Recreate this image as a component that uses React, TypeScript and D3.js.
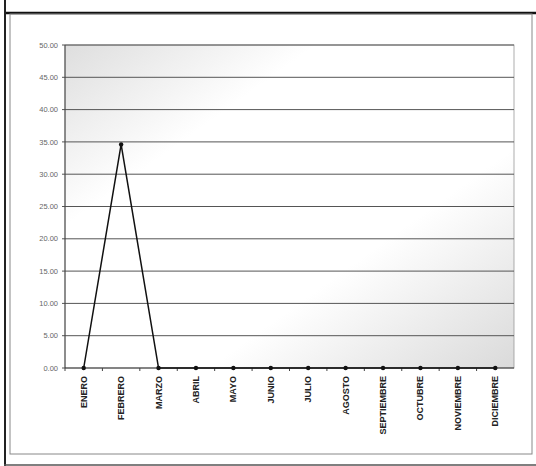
import React from 'react'
import * as d3 from 'd3'

const months: string[] = ['ENERO', 'FEBRERO', 'MARZO', 'ABRIL', 'MAYO', 'JUNIO', 'JULIO', 'AGOSTO', 'SEPTIEMBRE', 'OCTUBRE', 'NOVIEMBRE', 'DICIEMBRE']
const values: number[] = [0, 34.6, 0, 0, 0, 0, 0, 0, 0, 0, 0, 0]
const yTicks: number[] = [0, 5, 10, 15, 20, 25, 30, 35, 40, 45, 50]

const W = 536
const H = 466
const plot = { left: 65, right: 514, top: 45, bottom: 368 }

const App = () => {
  const x = d3.scaleBand<string>().domain(months).range([plot.left, plot.right])
  const y = d3.scaleLinear().domain([0, 50]).range([plot.bottom, plot.top])
  const cx = (m: string) => (x(m) as number) + x.bandwidth() / 2

  const line = d3.line<number>()
    .x((_, i) => cx(months[i]))
    .y(d => y(d))

  return (
    <svg width={W} height={H} style={{ position: 'absolute', left: 0, top: 0 }}
      fontFamily="'Liberation Sans', Arial, sans-serif">
      <defs>
        <linearGradient id="bg" x1="0" y1="0" x2="1" y2="1">
          <stop offset="0" stopColor="#dedede" />
          <stop offset="0.28" stopColor="#ffffff" />
          <stop offset="0.66" stopColor="#ffffff" />
          <stop offset="1" stopColor="#dadada" />
        </linearGradient>
      </defs>
      <rect width={W} height={H} fill="#fff" />
      {/* frame */}
      <line x1={4} x2={W} y1={13} y2={13} stroke="#111" strokeWidth={2.5} />
      <line x1={5} x2={5} y1={0} y2={H} stroke="#222" strokeWidth={2} />
      <line x1={4} x2={W} y1={465} y2={465} stroke="#555" strokeWidth={1.5} />
      <rect x={10} y={14} width={522} height={440} fill="none" stroke="#888" strokeWidth={1} />

      {/* plot area */}
      <rect x={plot.left} y={plot.top} width={plot.right - plot.left} height={plot.bottom - plot.top}
        fill="url(#bg)" stroke="#999" strokeWidth={0.8} />

      {yTicks.map(t => (
        <g key={t}>
          {t > 0 && <line x1={plot.left} x2={plot.right} y1={y(t)} y2={y(t)} stroke="#555" strokeWidth={1} />}
          <line x1={plot.left - 3} x2={plot.left} y1={y(t)} y2={y(t)} stroke="#555" />
          <text x={plot.left - 7} y={y(t)} dy="0.35em" textAnchor="end" fontSize={7.5} fill="#666">
            {d3.format('.2f')(t)}
          </text>
        </g>
      ))}

      {/* axes */}
      <line x1={plot.left} x2={plot.left} y1={plot.top} y2={plot.bottom} stroke="#444" />
      <line x1={plot.left} x2={plot.right} y1={plot.bottom} y2={plot.bottom} stroke="#333" strokeWidth={1.2} />
      {months.map(m => (
        <line key={'t' + m} x1={x(m) as number} x2={x(m) as number} y1={plot.bottom} y2={plot.bottom + 3} stroke="#444" />
      ))}

      <path d={line(values) || ''} fill="none" stroke="#111" strokeWidth={1.5} />
      {values.map((v, i) => (
        <circle key={i} cx={cx(months[i])} cy={y(v)} r={2.2} fill="#111" />
      ))}

      {months.map(m => (
        <text key={m} transform={`translate(${cx(m) + 3},${plot.bottom + 8}) rotate(-90)`}
          textAnchor="end" fontSize={9} fontWeight="bold" fill="#222">
          {m}
        </text>
      ))}
    </svg>
  )
}

export default App
